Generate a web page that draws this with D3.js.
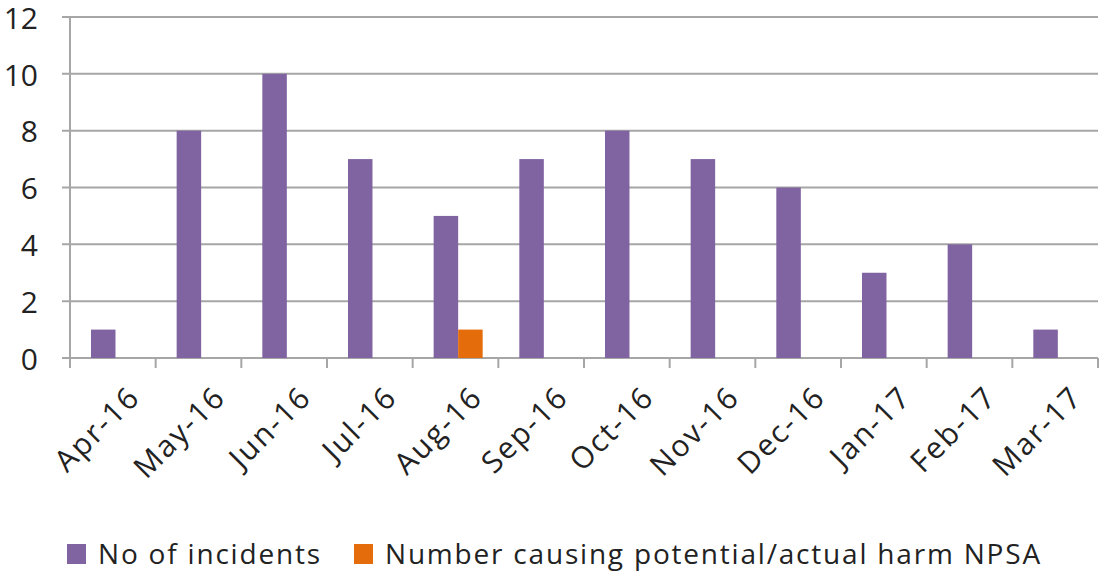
<!DOCTYPE html>
<html>
<head>
<meta charset="utf-8">
<script src="https://cdn.jsdelivr.net/npm/d3@7"></script>
<style>
  html, body { margin: 0; padding: 0; background: #fff; }
  svg { display: block; font-family: "Open Sans", Lato, sans-serif; }
</style>
</head>
<body>
<svg id="chart" width="1100" height="576"></svg>
<script>
// Monthly incident counts, April 2016 – March 2017
const months = ["Apr-16","May-16","Jun-16","Jul-16","Aug-16","Sep-16","Oct-16","Nov-16","Dec-16","Jan-17","Feb-17","Mar-17"];
const incidents = [1, 8, 10, 7, 5, 7, 8, 7, 6, 3, 4, 1];
const harmNPSA = [0, 0, 0, 0, 1, 0, 0, 0, 0, 0, 0, 0];
const seriesNames = ["No of incidents", "Number causing potential/actual harm NPSA"];
const seriesColors = ["#8064A2", "#E46C0A"];
const yTicks = [0, 2, 4, 6, 8, 10, 12];

const svg = d3.select("#chart");
const plot = { left: 70, right: 1098, top: 17, bottom: 358 };

const x0 = d3.scaleBand().domain(months).range([plot.left, plot.right]).paddingInner(0).paddingOuter(0);
const bw = x0.bandwidth();
const x1 = d3.scaleBand().domain([0, 1]).range([bw * 0.245, bw * 0.245 + bw * 0.572]).padding(0);
const y = d3.scaleLinear().domain([0, 12]).range([plot.bottom, plot.top]);

// horizontal gridlines with short outside ticks
svg.append("g")
  .selectAll("line")
  .data(yTicks)
  .join("line")
  .attr("x1", plot.left - 8)
  .attr("x2", plot.right)
  .attr("y1", d => y(d))
  .attr("y2", d => y(d))
  .attr("stroke", "#a6a6a6")
  .attr("stroke-width", 2);

// y-axis line
svg.append("line")
  .attr("x1", plot.left).attr("x2", plot.left)
  .attr("y1", plot.top).attr("y2", plot.bottom + 8)
  .attr("stroke", "#a6a6a6").attr("stroke-width", 2);

// y tick labels
svg.append("g")
  .selectAll("text")
  .data(yTicks)
  .join("text")
  .attr("x", 38)
  .attr("y", d => y(d) + 1)
  .attr("dy", "0.36em")
  .attr("text-anchor", "end")
  .attr("font-size", 30)
  .attr("fill", "#222")
  .text(d => d);

// category tick marks
const tickPos = months.map(m => x0(m)).concat([plot.right]);
svg.append("g")
  .selectAll("line")
  .data(tickPos)
  .join("line")
  .attr("x1", d => d).attr("x2", d => d)
  .attr("y1", plot.bottom).attr("y2", plot.bottom + 10)
  .attr("stroke", "#a6a6a6").attr("stroke-width", 2);

// bars
const rows = months.map((m, i) => ({ month: m, values: [incidents[i], harmNPSA[i]] }));
const groups = svg.append("g")
  .selectAll("g")
  .data(rows)
  .join("g")
  .attr("transform", d => `translate(${x0(d.month)},0)`);

groups.selectAll("rect")
  .data(d => d.values.map((v, s) => ({ v, s })).filter(e => e.v > 0))
  .join("rect")
  .attr("x", d => x1(d.s))
  .attr("width", x1.bandwidth())
  .attr("y", d => y(d.v))
  .attr("height", d => y(0) - y(d.v))
  .attr("fill", d => seriesColors[d.s]);

// rotated month labels
svg.append("g")
  .selectAll("text")
  .data(months)
  .join("text")
  .attr("transform", d => `translate(${x0(d) + bw / 2 + 14},${plot.bottom + 26}) rotate(-45)`)
  .attr("text-anchor", "end")
  .attr("dy", "0.7em")
  .attr("font-size", 30)
  .attr("letter-spacing", 2)
  .attr("fill", "#222")
  .text(d => d);

// legend
const legend = svg.append("g").attr("transform", "translate(67,544)");
const legendX = [0, 287];
seriesNames.forEach((name, i) => {
  const g = legend.append("g").attr("transform", `translate(${legendX[i]},0)`);
  g.append("rect").attr("width", 19).attr("height", 20).attr("fill", seriesColors[i]);
  g.append("text").attr("x", 31).attr("y", 20).attr("font-size", 28)
    .attr("letter-spacing", 1.8).attr("fill", "#222").text(name);
});
</script>
</body>
</html>
